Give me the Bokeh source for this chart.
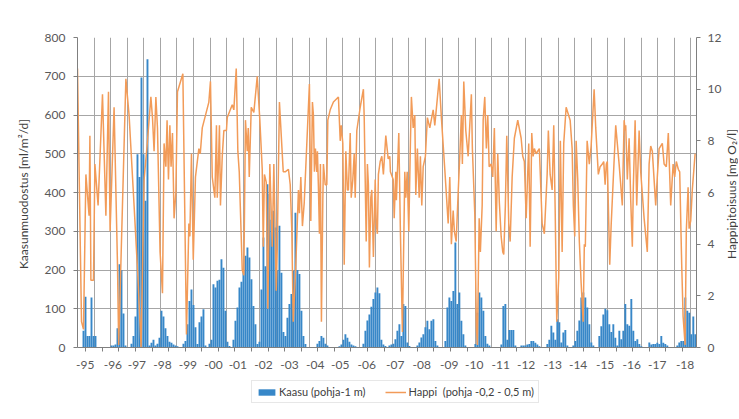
import math
from bokeh.plotting import figure
from bokeh.layouts import column, row
from bokeh.models import Range1d, LinearAxis, FixedTicker, Legend, LegendItem, ColumnDataSource, Label
from bokeh.embed import file_html
from bokeh.resources import INLINE

# ---------------- data ----------------
# gas formation (ml/m2/d), one value per sample (category index 0..309)
kaasu = [
    0, 0, 0, 43, 131, 30, 30, 129, 30, 30,
    0, 0, 0, 0, 0, 0, 0, 5, 5, 8,
    50, 215, 200, 88, 5, 0, 0, 10, 30, 80,
    499, 440, 697, 499, 379, 744, 5, 12, 20, 5,
    10, 25, 95, 80, 50, 30, 15, 12, 8, 5,
    3, 0, 0, 10, 17, 60, 120, 150, 110, 52,
    9, 65, 80, 99, 5, 0, 10, 20, 163, 155,
    172, 175, 228, 206, 95, 15, 4, 0, 20, 69,
    103, 155, 170, 200, 237, 258, 232, 176, 107, 60,
    9, 15, 150, 284, 210, 421, 396, 330, 353, 310,
    200, 314, 193, 40, 30, 77, 112, 138, 198, 348,
    200, 190, 95, 30, 9, 0, 0, 0, 0, 0,
    10, 17, 30, 25, 10, 5, 0, 0, 0, 0,
    0, 3, 8, 20, 34, 25, 15, 8, 5, 3,
    0, 0, 0, 10, 43, 70, 85, 105, 125, 142,
    155, 140, 20, 8, 4, 0, 5, 8, 10, 21,
    43, 60, 30, 112, 107, 13, 4, 0, 0, 0,
    5, 13, 26, 34, 52, 69, 47, 69, 73, 17,
    5, 0, 0, 0, 17, 103, 129, 120, 146, 271,
    112, 142, 69, 34, 5, 0, 0, 0, 0, 9,
    90, 142, 129, 95, 30, 10, 5, 0, 0, 0,
    0, 0, 8, 107, 112, 20, 45, 45, 45, 5,
    0, 0, 5, 5, 5, 8, 9, 17, 17, 12,
    8, 3, 0, 0, 0, 9, 20, 56, 39, 20,
    73, 65, 13, 39, 45, 5, 0, 0, 5, 17,
    43, 70, 129, 142, 129, 103, 60, 13, 5, 0,
    0, 30, 55, 85, 100, 96, 60, 40, 60, 25,
    5, 43, 21, 43, 112, 60, 56, 125, 43, 17,
    21, 9, 3, 0, 0, 0, 13, 8, 9, 9,
    12, 9, 30, 12, 9, 5, 0, 0, 0, 0,
    5, 13, 17, 17, 129, 95, 90, 34, 80, 34,
]
kaasu_x = list(range(len(kaasu)))

# oxygen (mg O2/l): sample position on the same category scale, and value
happi_x = [
    0.0, 2.0, 3.0, 4.2, 5.8, 6.2, 6.7, 8.0, 8.7, 10.3, 12.5, 14.2, 15.5, 16.3, 18.3, 20.0, 20.6,
    24.2, 25.8, 28.3, 30.3, 31.8, 33.3, 34.8, 36.7, 37.5, 38.3, 39.2, 40.0, 41.3, 42.5, 43.3,
    44.2, 44.8, 45.5, 46.2, 46.8, 47.5, 48.3, 49.2, 50.0, 52.7,
    54.5, 55.7, 56.2, 57.0, 57.9, 59.0, 60.7, 61.4, 62.4, 65.7, 66.5, 67.4, 68.2, 68.7, 69.5,
    69.9, 70.4, 71.0, 71.5, 72.4, 73.2, 74.5, 74.9, 77.4, 78.2, 79.4, 80.2, 80.9, 82.4, 83.2,
    84.0, 84.9, 85.4, 85.9, 86.9, 88.2, 89.9, 91.2, 92.4, 92.9, 93.5, 94.4, 95.2, 96.2, 97.4,
    98.2, 99.4, 99.9, 101.0, 102.9,
    103.9, 105.5, 106.4, 107.2, 107.9, 109.1, 110.5, 111.0, 111.7, 112.5, 113.4, 116.0, 116.7,
    117.5, 118.0, 118.5, 119.0, 119.7, 120.0, 120.5, 121.0, 121.5, 122.0, 122.7, 123.0, 123.9,
    124.7, 125.2, 126.4, 128.0, 130.5, 131.4, 131.9, 132.7, 133.4, 134.2, 135.0, 135.5, 136.4,
    136.9, 137.7, 138.4, 138.9, 139.7, 141.4, 143.0, 143.4, 144.4, 145.0, 145.5, 146.0, 146.7,
    147.2, 148.0, 148.9, 149.4, 150.0, 150.5, 151.4, 152.2, 153.0, 154.2,
    155.4, 156.2, 156.5, 157.9, 158.4, 159.2, 159.5, 160.7, 161.5, 162.5, 163.7, 164.2, 164.9,
    165.7, 166.5, 167.0, 167.9, 168.7, 169.2, 170.0, 170.9, 171.5, 172.2, 172.9, 174.0, 175.0,
    176.2, 177.9, 178.7, 180.9, 182.0, 183.7, 185.4, 186.2, 187.0, 187.9, 188.5, 189.4, 190.4,
    191.2, 192.0, 192.5, 193.2, 194.2, 195.4, 197.0, 197.5, 198.7, 199.5, 200.0, 200.9, 201.5,
    202.4, 202.9, 203.7, 204.5,
    205.2, 205.9, 206.9, 207.7, 208.5, 209.4, 210.2, 211.0, 211.9, 212.7, 213.2, 214.0, 214.7,
    215.7, 216.4, 217.4, 218.5, 220.2, 221.9, 222.7, 223.5, 224.4, 225.7, 226.4, 227.2, 227.9,
    228.5, 229.4, 231.0, 232.4, 233.5, 234.9, 235.5, 236.4, 237.4, 238.2, 238.9, 239.7, 240.7,
    241.5, 242.4, 243.2, 244.4, 246.4, 247.4, 248.0, 248.7, 249.4, 250.2, 251.0, 251.9, 252.9,
    253.5, 254.0, 254.9, 256.0,
    256.9, 258.4, 259.2, 260.5, 261.4, 262.5, 263.2, 263.9, 264.5, 265.0, 266.2, 266.9, 269.2,
    270.9, 272.5, 273.4, 273.9, 274.2, 275.0, 275.9, 276.7, 277.5, 278.0, 278.9, 279.7, 280.9,
    281.7, 283.4, 285.0, 285.9, 286.7, 287.5, 289.2, 290.0, 290.9, 292.5, 293.4, 294.5, 295.5,
    296.7, 297.9, 298.7, 299.5, 300.5, 301.2, 302.2, 302.9, 303.9, 304.5, 305.4, 305.9, 306.7,
    307.5, 308.9,
]
happi = [
    10.8, 1.0, 0.7, 6.7, 5.1, 8.2, 2.6, 2.6, 7.1, 5.5, 9.8, 5.1, 9.9, 4.5, 9.3, 3.2, 0.1,
    10.4, 9.0, 5.5, 2.6, 0.0, 6.5, 7.8, 9.7, 8.9, 7.6, 9.7, 8.5, 3.7, 2.1, 7.9,
    7.0, 8.8, 6.5, 8.6, 7.0, 8.3, 5.0, 6.0, 9.9, 10.6,
    0.5, 4.8, 4.3, 7.5, 3.4, 6.6, 7.7, 7.5, 8.5, 9.5, 10.3, 6.6, 6.1, 5.8, 8.6,
    5.8, 6.8, 8.6, 5.5, 7.4, 8.4, 8.4, 8.9, 9.4, 9.2, 10.8, 7.6, 6.8, 3.0, 2.8,
    8.8, 7.6, 8.5, 6.6, 9.3, 9.1, 10.5, 8.8, 6.9, 3.9, 6.7, 6.4, 1.5, 7.1, 3.9,
    7.1, 2.2, 3.8, 9.5, 6.8,
    6.8, 6.9, 6.3, 4.5, 1.0, 3.0, 6.1, 5.2, 6.6, 4.7, 5.6, 10.2, 4.9,
    9.5, 9.0, 6.8, 7.7, 6.8, 7.6, 6.2, 4.4, 7.1, 1.0, 5.7, 7.1, 6.3,
    6.3, 8.8, 9.2, 9.5, 9.7, 8.0, 8.6, 7.9, 3.2, 7.6, 6.1, 6.1, 8.3,
    5.8, 6.5, 7.5, 5.8, 8.4, 9.3, 10.0, 8.9, 4.1, 7.1, 6.3, 3.1, 5.8,
    6.1, 3.5, 6.5, 4.8, 4.4, 6.7, 7.2, 7.4, 6.7, 8.2,
    7.3, 7.4, 6.8, 6.5, 5.0, 6.8, 5.7, 8.3, 4.5, 0.6, 6.8, 5.8, 6.8,
    4.5, 7.9, 9.7, 8.5, 9.0, 5.9, 7.7, 5.8, 7.4, 5.5, 7.0, 7.4, 8.9,
    8.5, 9.2, 8.6, 10.4, 8.9, 6.9, 4.8, 6.6, 4.0, 5.3, 4.5, 4.1, 6.0,
    7.4, 9.0, 7.1, 10.3, 8.4, 7.4, 9.8, 7.7, 5.2, 0.8, 0.1, 5.0, 3.7,
    5.5, 8.8, 9.7, 7.7,
    9.0, 7.0, 7.1, 6.6, 8.5, 4.5, 7.5, 5.6, 4.3, 3.7, 3.6, 5.5, 8.2,
    4.8, 4.1, 6.6, 8.1, 8.8, 8.1, 7.4, 7.2, 5.0, 7.9, 3.9, 8.3, 7.4,
    7.7, 7.5, 7.7, 4.8, 4.4, 6.7, 8.4, 6.7, 6.1, 8.6, 5.4, 1.0, 2.7,
    8.0, 3.7, 7.9, 9.3, 8.8, 7.7, 5.5, 4.3, 8.0, 6.5, 4.1, 2.5, 1.0,
    4.0, 3.9, 8.0, 7.1,
    7.8, 10.0, 8.5, 6.7, 7.0, 7.1, 7.2, 6.3, 7.1, 7.2, 3.2, 4.7, 8.6,
    7.1, 5.5, 8.8, 8.4, 8.6, 6.5, 8.1, 5.7, 3.9, 6.2, 8.8, 5.5, 8.4,
    6.8, 5.0, 3.7, 7.1, 7.8, 7.6, 5.5, 6.6, 7.7, 7.9, 7.1, 7.0, 8.3,
    5.5, 7.1, 6.6, 7.2, 6.9, 6.8, 3.2, 1.2, 0.1, 4.5, 6.2, 4.6, 4.9,
    6.1, 7.5,
]

# year tick labels and their positions on the category scale
year_labels = ["-95", "-96", "-97", "-98", "-99", "-00", "-01", "-02", "-03", "-04", "-05", "-06",
               "-07", "-08", "-09", "-10", "-11", "-12", "-13", "-14", "-15", "-16", "-17", "-18"]
year_pos = [3.85, 17.7, 29.7, 42.5, 55.2, 68.0, 80.2, 93.0, 106.0, 118.9, 131.4, 144.7,
            158.9, 172.2, 185.9, 198.4, 211.7, 224.4, 237.7, 250.4, 263.9, 277.2, 290.0, 303.9]

left_ticks = [0, 100, 200, 300, 400, 500, 600, 700, 800]
right_ticks = [0, 2, 4, 6, 8, 10, 12]

# ---------------- style ----------------
BLUE = "#3787c8"
ORANGE = "#f29b58"
GRID = "#a6a6a6"
AXIS = "#7f7f7f"
TXT = "#595959"
TITLE = "#404040"
FONT = "Lato"

X_MAX = 309.6
GRID_STEP = 8.29
n_grid = int(X_MAX // GRID_STEP) + 1
grid_ticks = [i * GRID_STEP for i in range(n_grid)]
mark_ticks = [i * GRID_STEP + GRID_STEP / 2 for i in range(n_grid) if i * GRID_STEP + GRID_STEP / 2 < X_MAX]

p = figure(frame_width=619, frame_height=310, x_range=Range1d(0, X_MAX), y_range=Range1d(0, 800),
           output_backend="svg", toolbar_location=None,
           min_border_left=77, min_border_right=27, min_border_top=37, min_border_bottom=33)
p.outline_line_color = None
p.background_fill_color = "white"
p.border_fill_color = "white"

p.extra_y_ranges = {"o2": Range1d(0, 12)}

src = ColumnDataSource(dict(x=kaasu_x, top=kaasu))
r_bar = p.vbar(x="x", top="top", bottom=0, width=0.95, source=src,
               fill_color=BLUE, line_color=None)
r_line = p.line(happi_x, happi, y_range_name="o2", line_color=ORANGE, line_width=1.5)

# grids
p.xgrid[0].ticker = FixedTicker(ticks=grid_ticks)
p.ygrid[0].ticker = FixedTicker(ticks=left_ticks)
for g in (p.xgrid[0], p.ygrid[0]):
    g.grid_line_color = GRID
    g.grid_line_width = 1

# x axis
xa = p.xaxis[0]
xa.ticker = FixedTicker(ticks=year_pos, minor_ticks=mark_ticks)
xa.major_label_overrides = {pos: lab for pos, lab in zip(year_pos, year_labels)}
xa.major_tick_line_color = None
xa.major_tick_out = 0
xa.major_tick_in = 0
xa.minor_tick_line_color = AXIS
xa.minor_tick_out = 4
xa.minor_tick_in = 0
xa.axis_line_color = AXIS
xa.major_label_standoff = 9
xa.major_label_text_font = FONT
xa.major_label_text_font_size = "12px"
xa.major_label_text_color = TXT

# left axis
ya = p.yaxis[0]
ya.ticker = FixedTicker(ticks=left_ticks)
ya.axis_label = "Kaasunmuodostus  [ml/m²/d]"
ya.minor_tick_line_color = None
ya.major_tick_out = 4
ya.major_tick_in = 0

# right axis (its title is drawn in the narrow strip to the right, reading upwards)
ra = LinearAxis(y_range_name="o2", ticker=FixedTicker(ticks=right_ticks))
p.add_layout(ra, "right")
ra.minor_tick_line_color = None
ra.major_tick_out = 4
ra.major_tick_in = 0

for ax in (ya, ra):
    ax.axis_line_color = AXIS
    ax.major_tick_line_color = AXIS
    ax.major_label_text_font = FONT
    ax.major_label_text_font_size = "12px"
    ax.major_label_text_color = TXT
    ax.axis_label_text_font = FONT
    ax.axis_label_text_font_size = "12px"
    ax.axis_label_text_font_style = "normal"
    ax.axis_label_text_color = TITLE
ya.major_label_standoff = 8
ya.axis_label_standoff = 11
ra.major_label_standoff = 7

# ---------------- right-axis title strip ----------------
pt = figure(width=14, height=380, x_range=Range1d(0, 1), y_range=Range1d(0, 1),
            output_backend="svg", toolbar_location=None,
            x_axis_location=None, y_axis_location=None, min_border=0)
pt.outline_line_color = None
pt.grid.visible = False
pt.add_layout(Label(x=0.5, y=0.5, text="Happipitoisuus  [mg O₂/l]", angle=math.pi / 2,
                    text_align="center", text_baseline="middle", text_font=FONT,
                    text_font_size="12px", text_color=TITLE))

# ---------------- legend strip below the chart ----------------
pl = figure(width=739, height=39, x_range=Range1d(0, 1), y_range=Range1d(0, 1),
            output_backend="svg", toolbar_location=None,
            x_axis_location=None, y_axis_location=None,
            min_border_left=77, min_border_right=0, min_border_top=0, min_border_bottom=0)
pl.outline_line_color = None
pl.grid.visible = False
# legend proxies, kept outside the visible ranges so only their legend glyphs show
lg_bar = pl.vbar(x=[-100], bottom=[-3], top=[-2], width=1, fill_color=BLUE, line_color=None)
lg_line = pl.line(x=[-100, -99], y=[-5, -5], line_color=ORANGE, line_width=1.5)

legend = Legend(items=[LegendItem(label="Kaasu (pohja-1 m)", renderers=[lg_bar]),
                       LegendItem(label="Happi  (pohja -0,2 - 0,5 m)", renderers=[lg_line])],
                location=(174, 16), orientation="horizontal")
legend.margin = 0
legend.padding = 4
legend.spacing = 20
legend.glyph_width = 21
legend.glyph_height = 8
legend.label_height = 13
legend.label_standoff = 2
legend.label_text_font = FONT
legend.label_text_font_size = "11px"
legend.label_text_color = TITLE
legend.border_line_color = "#d0d0d0"
legend.background_fill_color = "white"
legend.background_fill_alpha = 1
pl.add_layout(legend)

layout = column(row(p, pt, spacing=0), pl, spacing=0)
open("out.html", "w").write(file_html(layout, INLINE))
